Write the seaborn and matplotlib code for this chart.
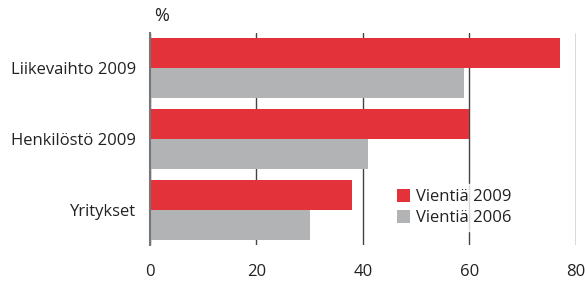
import matplotlib
matplotlib.use("Agg")
import matplotlib.pyplot as plt
import seaborn as sns
import pandas as pd

categories = ["Liikevaihto 2009", "Henkilöstö 2009", "Yritykset"]
series_names = ["Vientiä 2009", "Vientiä 2006"]
vienti_2009 = [77, 60, 38]
vienti_2006 = [59, 41, 30]
x_ticks = [0, 20, 40, 60, 80]

sns.set_style("white")
plt.rcParams["font.family"] = ["Open Sans", "DejaVu Sans"]
FS = 12

rows = []
for c, a, b in zip(categories, vienti_2009, vienti_2006):
    rows.append({"cat": c, "series": series_names[0], "value": a})
    rows.append({"cat": c, "series": series_names[1], "value": b})
df = pd.DataFrame(rows)

fig = plt.figure(figsize=(5.85, 2.81), dpi=100)
ax = fig.add_axes([150 / 585, 1 - 245 / 281, (575.7 - 150) / 585, (245 - 33) / 281])

palette = {series_names[0]: "#e3323a", series_names[1]: "#b2b3b5"}
sns.barplot(data=df, y="cat", x="value", hue="series", orient="h",
            palette=palette, width=0.85, saturation=1, gap=0,
            linewidth=0, ax=ax, legend=True)

ax.set_xlim(0, 80)
ax.set_ylim(2.5, -0.5)
ax.set_xticks(x_ticks)
ax.set_xticklabels([str(t) for t in x_ticks], fontsize=FS, color="#222")
ax.tick_params(axis="both", length=0)
ax.tick_params(axis="x", pad=14)
ax.tick_params(axis="y", pad=10)
for lbl in ax.get_yticklabels():
    lbl.set_fontsize(FS)
    lbl.set_color("#222")
ax.set_xlabel("")
ax.set_ylabel("")

ax.set_axisbelow(True)
ax.xaxis.grid(True, color="#444", linewidth=1)
ax.yaxis.grid(False)
for s in ["top", "right", "bottom"]:
    ax.spines[s].set_visible(False)
ax.spines["left"].set_color("#777")
ax.spines["left"].set_linewidth(1.5)

handles, labels = ax.get_legend_handles_labels()
leg = ax.legend(handles, labels, loc="upper left",
                bbox_to_anchor=((392 - 150) / 425.7, (245 - 184) / 212),
                frameon=True, fontsize=FS, handlelength=0.8, handleheight=0.8,
                handletextpad=0.35, labelspacing=0.3, borderpad=0.3,
                borderaxespad=0)
leg.get_frame().set_facecolor("white")
leg.get_frame().set_edgecolor("white")
leg.get_frame().set_boxstyle("square", pad=0)
for t in leg.get_texts():
    t.set_color("#222")

fig.text(154 / 585, 1 - 16 / 281, "%", fontsize=FS + 1, color="#222",
         ha="left", va="center")

fig.savefig("out.png", dpi=100)
